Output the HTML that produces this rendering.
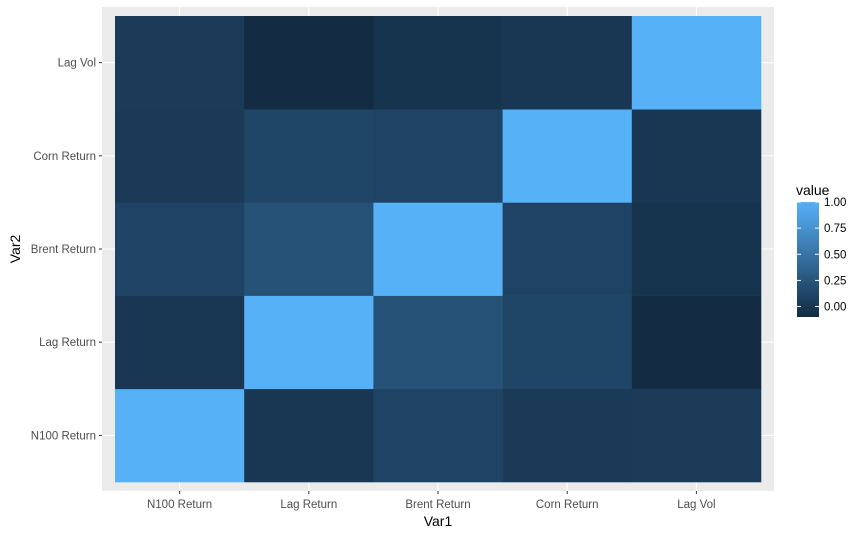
<!DOCTYPE html>
<html><head><meta charset="utf-8"><style>
body{margin:0;background:#fff;}
svg{display:block;font-family:"Liberation Sans",Arial,sans-serif;}
</style></head><body>
<svg id="chart" width="865" height="536">
<rect x="102" y="7" width="672" height="484" fill="#EBEBEB"/>
<g id="grid"></g><g id="tiles"></g><g id="axes"></g><g id="legend"></g>
</svg>
<script>
const categories = ["N100 Return","Lag Return","Brent Return","Corn Return","Lag Vol"];
const values = [
 [1.00, 0.00, 0.10, 0.02, 0.03],
 [0.00, 1.00, 0.22, 0.12, -0.10],
 [0.10, 0.22, 1.00, 0.10, -0.03],
 [0.02, 0.12, 0.10, 1.00, 0.00],
 [0.03, -0.10, -0.03, 0.00, 1.00]
];
const legendTicks = [0.00, 0.25, 0.50, 0.75, 1.00];
const legendTickLabels = ["0.00","0.25","0.50","0.75","1.00"];

const NS="http://www.w3.org/2000/svg";
function mk(t,a,p){const e=document.createElementNS(NS,t);for(const k in a)e.setAttribute(k,a[k]);p.appendChild(e);return e;}
const x0=115,x1=761,y0=16,y1=482;
const bw=(x1-x0)/categories.length, bh=(y1-y0)/categories.length;
const xC=i=>x0+bw*(i+0.5);
const yC=j=>y1-bh*(j+0.5);
let vmin=Infinity,vmax=-Infinity;values.forEach(r=>r.forEach(v=>{vmin=Math.min(vmin,v);vmax=Math.max(vmax,v);}));
const lo=[0x13,0x2B,0x43],hi=[0x56,0xB1,0xF7];
function col(v){const t=(v-vmin)/(vmax-vmin);return "rgb("+lo.map((c,i)=>Math.round(c+(hi[i]-c)*t)).join(",")+")";}
const grid=document.getElementById('grid'),tiles=document.getElementById('tiles'),axes=document.getElementById('axes'),leg=document.getElementById('legend');
categories.forEach((c,i)=>{
 let g=mk('line',{x1:xC(i),x2:xC(i),y1:7,y2:491,stroke:'#fff','stroke-width':1.1},grid);
 
 
 g=mk('line',{x1:102,x2:774,y1:yC(i),y2:yC(i),stroke:'#fff','stroke-width':1.1},grid);
 
 
});
values.forEach((row,i)=>row.forEach((v,j)=>{
 const r=mk('rect',{x:x0+bw*i,y:y1-bh*(j+1),width:bw+0.3,height:bh+0.3,fill:col(v)},tiles);
 
 
}));
categories.forEach((c,i)=>{
 let t=mk('line',{x1:xC(i),x2:xC(i),y1:491,y2:494,stroke:'#333'},axes);
 
 
 let l=mk('text',{x:xC(i),y:508,'text-anchor':'middle','font-size':11.5,fill:'#4D4D4D'},axes);l.textContent=c;
 
 
 t=mk('line',{x1:99,x2:102,y1:yC(i),y2:yC(i),stroke:'#333'},axes);
 
 
 l=mk('text',{x:96,y:yC(i)+4,'text-anchor':'end','font-size':11.5,fill:'#4D4D4D'},axes);l.textContent=c;
 
 
});
let at=mk('text',{x:438,y:526,'text-anchor':'middle','font-size':14,fill:'#000'},axes);at.textContent='Var1';


at=mk('text',{x:0,y:0,'text-anchor':'middle','font-size':14,fill:'#000',transform:'translate(20,249) rotate(-90)'},axes);at.textContent='Var2';


// legend
const lt=mk('text',{x:796,y:195,'font-size':14,fill:'#000'},leg);lt.textContent='value';


const gtop=202,gbot=317,ly=v=>gbot-(v-vmin)/(vmax-vmin)*(gbot-gtop);
const defs=mk('defs',{},leg);const lg=mk('linearGradient',{id:'lg',x1:0,y1:1,x2:0,y2:0},defs);
mk('stop',{offset:0,'stop-color':col(vmin)},lg);mk('stop',{offset:1,'stop-color':col(vmax)},lg);
const bar=mk('rect',{x:797,y:gtop,width:22,height:gbot-gtop,fill:'url(#lg)'},leg);


legendTicks.forEach((v,k)=>{
 const y=ly(v);
 mk('line',{x1:797,x2:801,y1:y,y2:y,stroke:'#fff'},leg);
 mk('line',{x1:815,x2:819,y1:y,y2:y,stroke:'#fff'},leg);
 const t=mk('text',{x:824,y:y+4,'font-size':11.5,fill:'#000'},leg);t.textContent=legendTickLabels[k];
 
 
});
</script>
</body></html>
